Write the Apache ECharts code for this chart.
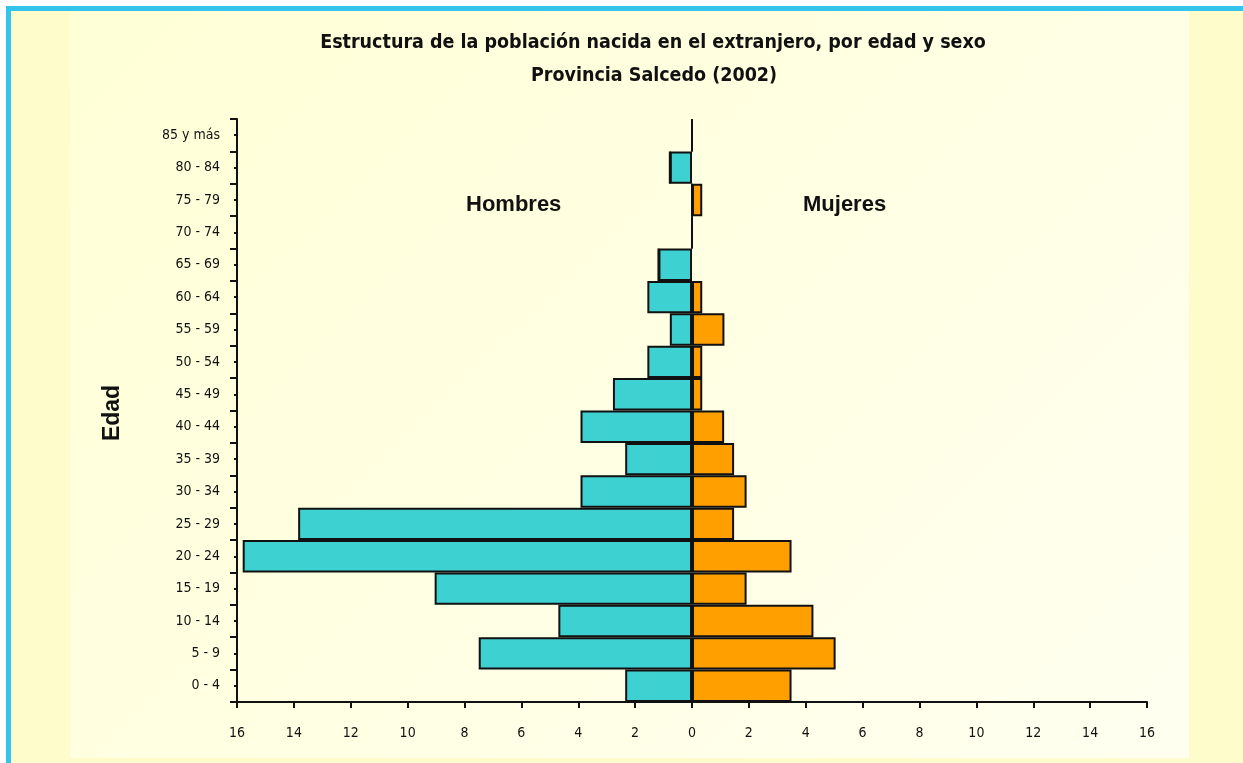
<!DOCTYPE html>
<html>
<head>
<meta charset="utf-8">
<script src="https://cdn.jsdelivr.net/npm/echarts@6/dist/echarts.min.js"></script>
<style>
  html, body { margin: 0; padding: 0; width: 1243px; height: 763px; overflow: hidden; background: #ffffff; }
  #frame { position: absolute; left: 6px; top: 6px; width: 1250px; height: 770px;
           border-left: 5px solid #33c3eb; border-top: 5px solid #33c3eb; background: #fffccb; }
  #panel { position: absolute; left: 70px; top: 11px; width: 1119px; height: 747px;
           background: linear-gradient(135deg, #ffffd6 0%, #fffff0 100%); }
  #chart { position: absolute; left: 0; top: 0; width: 1243px; height: 763px; }
</style>
</head>
<body>
<div id="frame"></div>
<div id="panel"></div>
<div id="chart"></div>
<script>
const titleText = 'Estructura de la población nacida en el extranjero, por edad y sexo';
const subtitleText = 'Provincia Salcedo (2002)';
const ageGroups = ['0 - 4', '5 - 9', '10 - 14', '15 - 19', '20 - 24', '25 - 29', '30 - 34', '35 - 39',
  '40 - 44', '45 - 49', '50 - 54', '55 - 59', '60 - 64', '65 - 69', '70 - 74', '75 - 79', '80 - 84', '85 y más'];
const hombres = [2.35, 7.5, 4.7, 9.05, 15.8, 13.85, 3.92, 2.35, 3.92, 2.78, 1.57, 0.78, 1.57, 1.18, 0, 0, 0.78, 0];
const mujeres = [3.5, 5.05, 4.27, 1.92, 3.5, 1.48, 1.92, 1.48, 1.13, 0.36, 0.36, 1.14, 0.36, 0, 0, 0.36, 0, 0];
const xTicks = [-16, -14, -12, -10, -8, -6, -4, -2, 0, 2, 4, 6, 8, 10, 12, 14, 16];

const narrow = "'Liberation Sans Narrow', 'DejaVu Sans Condensed', 'Liberation Sans', sans-serif";
const chart = echarts.init(document.getElementById('chart'), null, { renderer: 'canvas' });

chart.setOption({
  backgroundColor: 'transparent',
  animation: false,
  title: [
    { text: titleText, left: 648, textAlign: 'center', top: 28,
      textStyle: { fontFamily: narrow, fontWeight: 'bold', fontSize: 19.5, color: '#111' } },
    { text: subtitleText, left: 649, textAlign: 'center', top: 61,
      textStyle: { fontFamily: narrow, fontWeight: 'bold', fontSize: 19.5, color: '#111' } }
  ],
  grid: { left: 237, right: 96, top: 119, bottom: 61, containLabel: false },
  xAxis: {
    type: 'value', min: xTicks[0], max: xTicks[xTicks.length - 1], interval: 2,
    axisLine: { show: true, onZero: false, lineStyle: { color: '#111', width: 2 } },
    axisTick: { show: true, length: 6, lineStyle: { color: '#111', width: 2 } },
    splitLine: { show: false },
    axisLabel: { margin: 24, color: '#111', fontFamily: narrow, fontSize: 14,
      formatter: v => String(Math.abs(v)) }
  },
  yAxis: [
    {
      type: 'category', data: ageGroups, position: 'left',
      axisLine: { show: true, onZero: false, lineStyle: { color: '#111', width: 2 } },
      axisTick: { show: true, alignWithLabel: true, length: 3, lineStyle: { color: '#111', width: 2 } },
      axisLabel: { margin: 17, color: '#111', fontFamily: narrow, fontSize: 14 },
      z: 5
    },
    {
      type: 'value', position: 'left', min: 0, max: ageGroups.length, interval: 1,
      axisLine: { show: false, onZero: false },
      axisTick: { show: true, length: 7, lineStyle: { color: '#111', width: 2 } },
      axisLabel: { show: false },
      splitLine: { show: false },
      z: 5
    }
  ],
  graphic: [
    { type: 'text', left: 466, top: 194,
      style: { text: 'Hombres', font: "bold 22px 'Liberation Sans', Arial, sans-serif", fill: '#111' } },
    { type: 'text', left: 803, top: 194,
      style: { text: 'Mujeres', font: "bold 22px 'Liberation Sans', Arial, sans-serif", fill: '#111' } },
    { type: 'text', x: 113, y: 413, rotation: Math.PI / 2,
      style: { text: 'Edad', font: "bold 23px 'Liberation Sans', Arial, sans-serif", fill: '#111',
        align: 'center', verticalAlign: 'middle' } }
  ],
  series: [
    {
      name: 'Hombres', type: 'bar', stack: 'pop', yAxisIndex: 0,
      data: hombres.map(v => -v),
      barCategoryGap: 0, barGap: 0,
      itemStyle: { color: '#3ed1d2', borderColor: '#111', borderWidth: 2 }
    },
    {
      name: 'Mujeres', type: 'bar', stack: 'pop', yAxisIndex: 0,
      data: mujeres,
      barCategoryGap: 0, barGap: 0,
      itemStyle: { color: '#ffa000', borderColor: '#111', borderWidth: 2 }
    }
  ]
});
</script>
</body>
</html>
